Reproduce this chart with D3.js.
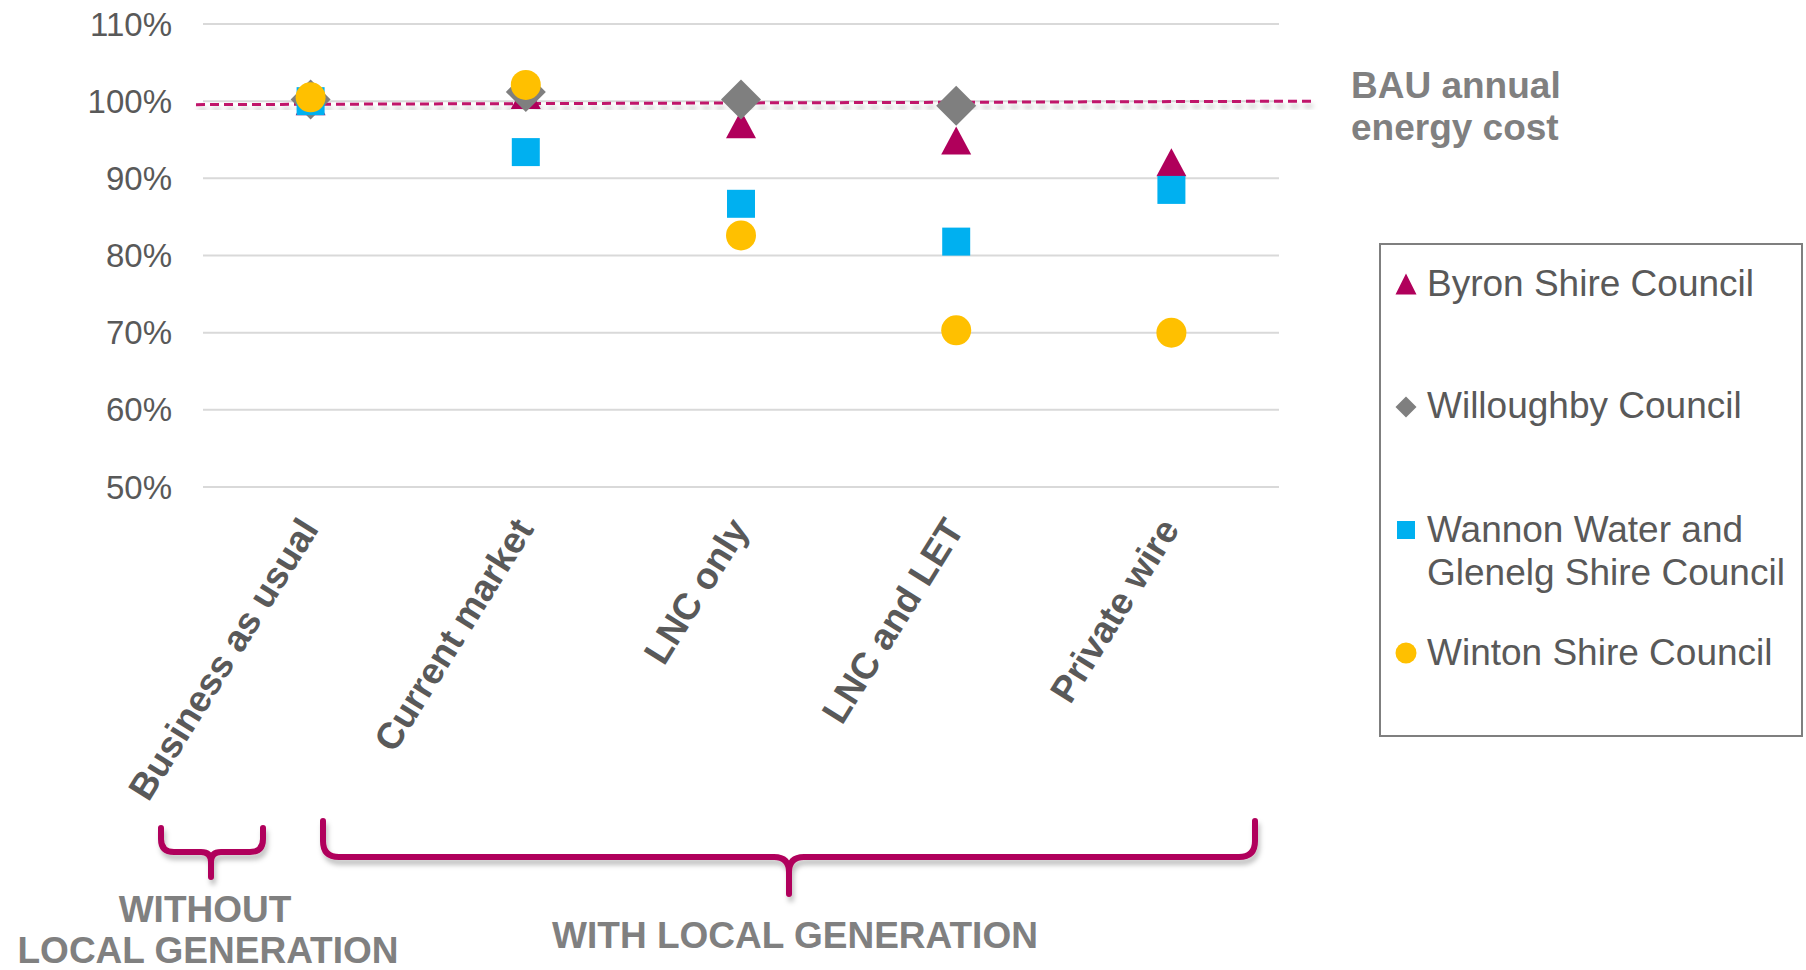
<!DOCTYPE html>
<html>
<head>
<meta charset="utf-8">
<script src="https://cdn.jsdelivr.net/npm/d3@7"></script>
<style>
  body { margin: 0; background: #fff; }
  svg { display: block; font-family: Arial, "Liberation Sans", sans-serif; }
</style>
</head>
<body>
<div id="chart"></div>
<script>
// categories and series (percent of BAU annual cost)
var categories = ["Business as usual", "Current market", "LNC only", "LNC and LET", "Private wire"];
var byron = [100, 100.8, 97.0, 94.9, 92.1];
var willoughby = [100.2, 101.2, 100.2, 99.4, null];
var wannon = [100, 93.4, 86.7, 81.8, 88.5];
var winton = [100.5, 102.1, 82.6, 70.3, 70.0];
var yTicks = [50, 60, 70, 80, 90, 100, 110];
var seriesNames = ["Byron Shire Council", "Willoughby Council", "Wannon Water and|Glenelg Shire Council", "Winton Shire Council"];

var width = 1806, height = 970;
var crimson = "#b0005b";

var svg = d3.select("#chart").append("svg")
    .attr("width", width)
    .attr("height", height);

var defs = svg.append("defs");
defs.append("filter").attr("id", "shadow")
    .attr("x", "-10%").attr("y", "-50%").attr("width", "120%").attr("height", "300%")
    .append("feDropShadow")
    .attr("dx", 2).attr("dy", 5).attr("stdDeviation", 2.5)
    .attr("flood-color", "#000").attr("flood-opacity", 0.25);

var xscale = d3.scaleBand()
    .domain(categories)
    .range([203, 1279]);

var yscale = d3.scaleLinear()
    .domain([50, 110])
    .range([487, 24]);

function cx(cat) {
    return xscale(cat) + xscale.bandwidth() / 2;
}

// gridlines
svg.append("g")
    .selectAll("line")
    .data(yTicks)
    .enter()
    .append("line")
    .attr("x1", 203)
    .attr("x2", 1279)
    .attr("y1", d => yscale(d))
    .attr("y2", d => yscale(d))
    .attr("stroke", "#d9d9d9")
    .attr("stroke-width", 2);

// y axis labels
svg.append("g")
    .selectAll("text")
    .data(yTicks)
    .enter()
    .append("text")
    .attr("x", 172)
    .attr("y", d => yscale(d))
    .attr("dy", "0.35em")
    .attr("text-anchor", "end")
    .attr("font-size", 33)
    .attr("fill", "#595959")
    .text(d => d + "%");

// x axis labels, rotated
svg.append("g")
    .selectAll("text")
    .data(categories)
    .enter()
    .append("text")
    .attr("transform", d => "translate(" + (cx(d) + 9) + ",529) rotate(-58)")
    .attr("text-anchor", "end")
    .attr("font-size", 37)
    .attr("font-weight", "bold")
    .attr("fill", "#595959")
    .text(d => d);

// BAU dashed reference line
svg.append("line")
    .attr("x1", 196)
    .attr("x2", 1313)
    .attr("y1", yscale(99.55))
    .attr("y2", yscale(100))
    .attr("stroke", "#c0136b")
    .attr("stroke-width", 3)
    .attr("stroke-dasharray", "9,5")
    .attr("filter", "url(#shadow)");

svg.append("text")
    .attr("x", 1351)
    .attr("y", 98)
    .attr("font-size", 37)
    .attr("font-weight", "bold")
    .attr("fill", "#808080")
    .text("BAU annual");
svg.append("text")
    .attr("x", 1351)
    .attr("y", 140)
    .attr("font-size", 37)
    .attr("font-weight", "bold")
    .attr("fill", "#808080")
    .text("energy cost");

// marker shapes, centred on (0,0)
function triangle(w, h) {
    return "M0," + (-h / 2) + "L" + (w / 2) + "," + (h / 2) + "L" + (-w / 2) + "," + (h / 2) + "Z";
}
function diamond(w, h) {
    return "M0," + (-h / 2) + "L" + (w / 2) + ",0L0," + (h / 2) + "L" + (-w / 2) + ",0Z";
}
function square(s) {
    return "M" + (-s / 2) + "," + (-s / 2) + "h" + s + "v" + s + "h" + (-s) + "Z";
}
function circle(r) {
    return "M" + (-r) + ",0A" + r + "," + r + " 0 1,0 " + r + ",0A" + r + "," + r + " 0 1,0 " + (-r) + ",0Z";
}

var series = [
    { values: byron, color: "#b0005b", shape: triangle(30, 28), legendShape: triangle(21, 21) },
    { values: willoughby, color: "#7f7f7f", shape: diamond(40, 40), legendShape: diamond(21, 21) },
    { values: wannon, color: "#00b0f0", shape: square(28), legendShape: square(18) },
    { values: winton, color: "#ffc000", shape: circle(15), legendShape: circle(10.5) }
];

series.forEach(function(s) {
    var pts = categories
        .map((c, i) => ({ cat: c, v: s.values[i] }))
        .filter(p => p.v !== null);
    svg.append("g")
        .selectAll("path")
        .data(pts)
        .enter()
        .append("path")
        .attr("d", s.shape)
        .attr("fill", s.color)
        .attr("transform", p => "translate(" + cx(p.cat) + "," + yscale(p.v) + ")");
});

// legend
var legend = svg.append("g");
legend.append("rect")
    .attr("x", 1380)
    .attr("y", 244)
    .attr("width", 422)
    .attr("height", 492)
    .attr("fill", "none")
    .attr("stroke", "#7f7f7f")
    .attr("stroke-width", 2);

var legendBaselines = [296, 418, 542, 665];
var legendMarkY = [284, 407, 530, 653];

series.forEach(function(s, i) {
    legend.append("path")
        .attr("d", s.legendShape)
        .attr("fill", s.color)
        .attr("transform", "translate(1406," + legendMarkY[i] + ")");
    var lines = seriesNames[i].split("|");
    var t = legend.append("text")
        .attr("x", 1427)
        .attr("y", legendBaselines[i])
        .attr("font-size", 37)
        .attr("fill", "#595959");
    lines.forEach(function(l, j) {
        t.append("tspan")
            .attr("x", 1427)
            .attr("dy", j === 0 ? 0 : 43)
            .text(l);
    });
});

// curly braces under the axis
function brace(x0, x1, xc, yTop, yMid, yTip, r, rc) {
    return "M" + x0 + "," + yTop +
        "L" + x0 + "," + (yMid - r) +
        "Q" + x0 + "," + yMid + " " + (x0 + r) + "," + yMid +
        "L" + (xc - rc) + "," + yMid +
        "Q" + xc + "," + yMid + " " + xc + "," + (yMid + rc) +
        "L" + xc + "," + yTip +
        "M" + xc + "," + (yMid + rc) +
        "Q" + xc + "," + yMid + " " + (xc + rc) + "," + yMid +
        "L" + (x1 - r) + "," + yMid +
        "Q" + x1 + "," + yMid + " " + x1 + "," + (yMid - r) +
        "L" + x1 + "," + yTop;
}

var braces = svg.append("g")
    .attr("fill", "none")
    .attr("stroke", crimson)
    .attr("stroke-width", 6)
    .attr("stroke-linecap", "round")
    .attr("stroke-linejoin", "round")
    .attr("filter", "url(#shadow)");

braces.append("path").attr("d", brace(161, 263, 211, 828, 852, 877, 13, 10));
braces.append("path").attr("d", brace(323, 1255, 789, 821, 857, 894, 16, 15));

var grpText = svg.append("g")
    .attr("font-size", 37)
    .attr("font-weight", "bold")
    .attr("fill", "#808080")
    .attr("text-anchor", "middle");
grpText.append("text").attr("x", 205).attr("y", 922).text("WITHOUT");
grpText.append("text").attr("x", 208).attr("y", 963).text("LOCAL GENERATION");
grpText.append("text").attr("x", 795).attr("y", 948).text("WITH LOCAL GENERATION");
</script>
</body>
</html>
